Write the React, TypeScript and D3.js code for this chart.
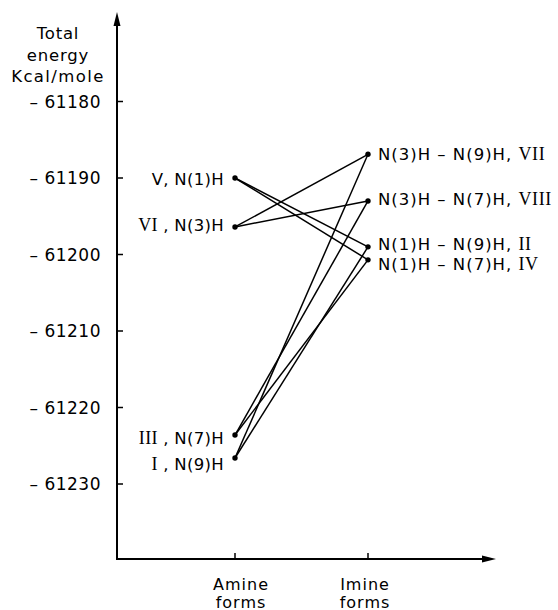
import React, { useEffect, useRef } from "react";
import * as d3 from "d3";

// forms on the x axis
const forms = ["Amine forms", "Imine forms"];

// amine tautomers (left column)
const amineIds = ["V", "VI", "III", "I"];
const amineNames = ["N(1)H", "N(3)H", "N(7)H", "N(9)H"];
const amineEnergy = [-61190.0, -61196.4, -61223.6, -61226.6];

// imine tautomers (right column)
const imineIds = ["VII", "VIII", "II", "IV"];
const imineNames = ["N(3)H – N(9)H", "N(3)H – N(7)H", "N(1)H – N(9)H", "N(1)H – N(7)H"];
const imineEnergy = [-61186.9, -61193.0, -61199.0, -61200.7];

// which amines are linked to each imine
const imineLinks = [
  ["VI", "I"],
  ["VI", "III"],
  ["V", "I"],
  ["V", "III"],
];

const yTicks = [-61180, -61190, -61200, -61210, -61220, -61230];

const sans = "'DejaVu Sans', Verdana, sans-serif";
const serif = "'Liberation Serif', 'Times New Roman', serif";

export default function App() {
  const ref = useRef<SVGSVGElement>(null);

  useEffect(() => {
    const svg = d3.select(ref.current);
    svg.selectAll("*").remove();

    const width = 558;
    const height = 610;
    const axisX = 117;
    const axisBottom = 559;
    const axisTop = 12;

    const x = d3.scalePoint().domain(forms).range([235, 368]);
    const y = d3.scaleLinear().domain([-61230, -61180]).range([484, 101.5]);

    svg.attr("width", width).attr("height", height);

    // axes
    svg
      .append("line")
      .attr("x1", axisX)
      .attr("x2", axisX)
      .attr("y1", axisBottom)
      .attr("y2", axisTop + 8)
      .attr("stroke", "#000")
      .attr("stroke-width", 2);
    svg
      .append("path")
      .attr("d", `M${axisX},${axisTop} L${axisX - 3.5},${axisTop + 14} L${axisX + 3.5},${axisTop + 14} Z`)
      .attr("fill", "#000");

    svg
      .append("line")
      .attr("x1", axisX - 1)
      .attr("x2", 488)
      .attr("y1", axisBottom)
      .attr("y2", axisBottom)
      .attr("stroke", "#000")
      .attr("stroke-width", 2);
    svg
      .append("path")
      .attr("d", `M496,${axisBottom} L482,${axisBottom - 3.5} L482,${axisBottom + 3.5} Z`)
      .attr("fill", "#000");

    // y ticks
    const yt = svg.append("g");
    yTicks.forEach((t) => {
      yt.append("line")
        .attr("x1", axisX)
        .attr("x2", axisX + 6)
        .attr("y1", y(t))
        .attr("y2", y(t))
        .attr("stroke", "#000")
        .attr("stroke-width", 1.5);
      yt.append("text")
        .attr("x", 101)
        .attr("y", y(t))
        .attr("dy", "0.36em")
        .attr("text-anchor", "end")
        .style("font-family", sans)
        .style("font-size", "17px")
        .style("letter-spacing", "0.5px")
        .text("– " + String(Math.abs(t)));
    });

    // y label
    ["Total", "energy", "Kcal/mole"].forEach((s, i) => {
      svg
        .append("text")
        .attr("x", 58)
        .attr("y", 39 + i * 21.5)
        .attr("text-anchor", "middle")
        .style("font-family", sans)
        .style("font-size", "16.5px")
        .style("letter-spacing", i === 2 ? "1.4px" : "0.8px")
        .text(s);
    });

    // x ticks and labels
    forms.forEach((f) => {
      svg
        .append("line")
        .attr("x1", x(f)!)
        .attr("x2", x(f)!)
        .attr("y1", axisBottom)
        .attr("y2", axisBottom - 6)
        .attr("stroke", "#000")
        .attr("stroke-width", 1.5);
      f.split(" ").forEach((w, i) => {
        svg
          .append("text")
          .attr("x", x(f)! + (f.startsWith("Amine") ? 6 : -3))
          .attr("y", 590 + i * 17.5)
          .attr("text-anchor", "middle")
          .style("font-family", sans)
          .style("font-size", "16px")
          .style("letter-spacing", "1px")
          .text(w);
      });
    });

    // connecting lines
    const ax = x("Amine forms")!;
    const ix = x("Imine forms")!;
    const lines = svg.append("g");
    imineIds.forEach((id, i) => {
      imineLinks[i].forEach((a) => {
        const j = amineIds.indexOf(a);
        lines
          .append("line")
          .attr("x1", ax)
          .attr("y1", y(amineEnergy[j]))
          .attr("x2", ix)
          .attr("y2", y(imineEnergy[i]))
          .attr("stroke", "#000")
          .attr("stroke-width", 1.5);
      });
    });

    // points
    amineEnergy.forEach((e) => {
      svg.append("circle").attr("cx", ax).attr("cy", y(e)).attr("r", 2.7).attr("fill", "#000");
    });
    imineEnergy.forEach((e) => {
      svg.append("circle").attr("cx", ix).attr("cy", y(e)).attr("r", 2.7).attr("fill", "#000");
    });

    // amine labels (small vertical nudges as set in the original)
    const amineNudge = [1.5, -1.5, 3, 6];
    amineIds.forEach((id, i) => {
      const t = svg
        .append("text")
        .attr("x", ax - 11)
        .attr("y", y(amineEnergy[i]) + amineNudge[i])
        .attr("dy", "0.36em")
        .attr("text-anchor", "end")
        .style("font-family", sans)
        .style("font-size", "16.5px")
        .style("letter-spacing", "0.3px");
      t.append("tspan")
        .style("font-family", id === "V" ? sans : serif)
        .style("font-size", id === "V" ? "16.5px" : "18px")
        .text(id);
      t.append("tspan").text(id === "V" ? ", " + amineNames[i] : " , " + amineNames[i]);
    });

    // imine labels
    const imineNudge = [0, -1.5, -2.5, 4.5];
    imineIds.forEach((id, i) => {
      const t = svg
        .append("text")
        .attr("x", ix + 10)
        .attr("y", y(imineEnergy[i]) + imineNudge[i])
        .attr("dy", "0.36em")
        .style("font-family", sans)
        .style("font-size", "16.5px")
        .style("letter-spacing", "1px");
      t.append("tspan").text(imineNames[i] + ", ");
      t.append("tspan").style("font-family", serif).style("font-size", "18px").style("letter-spacing", "0.6px").text(id);
    });
  }, []);

  return <svg ref={ref} style={{ position: "absolute", left: 0, top: 0, background: "#fff" }} />;
}
